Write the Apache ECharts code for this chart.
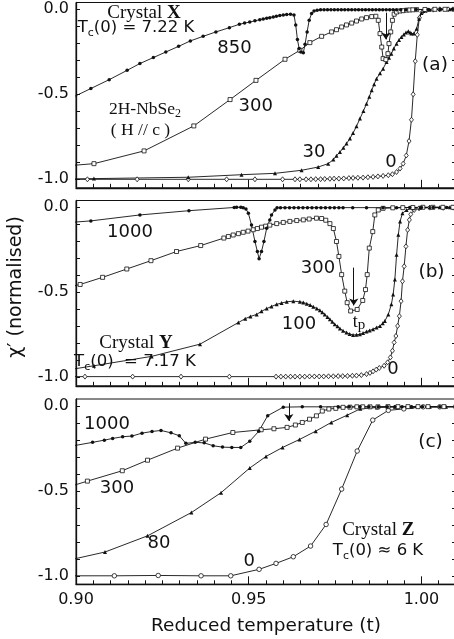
<!DOCTYPE html>
<html><head><meta charset="utf-8">
<script src="https://cdn.jsdelivr.net/npm/echarts@6/dist/echarts.min.js"></script>
<style>html,body{margin:0;padding:0;background:#fff}#c{width:454px;height:639px}</style>
</head><body><div id="c"></div>
<script>
// ---- tick values ----
const xTickLabels = [0.90, 0.95, 1.00];
const xMajorTicks = [0.95, 1.00];
const yTickLabels = [-1.0, -0.5, 0.0];
const yMinorTicks = [-1.0,-0.9,-0.8,-0.7,-0.6,-0.5,-0.4,-0.3,-0.2,-0.1,0.0];

// ---- panel (a): Crystal X ----
const a850 = [[0.8990,-0.518],[0.9043,-0.466],[0.9096,-0.414],[0.9148,-0.359],[0.9185,-0.319],[0.9224,-0.284],[0.9260,-0.251],[0.9297,-0.218],[0.9331,-0.186],[0.9368,-0.159],[0.9405,-0.133],[0.9444,-0.108],[0.9473,-0.088],[0.9488,-0.081],[0.9503,-0.075],[0.9518,-0.068],[0.9532,-0.061],[0.9542,-0.057],[0.9552,-0.053],[0.9561,-0.049],[0.9571,-0.045],[0.9580,-0.041],[0.9590,-0.037],[0.9600,-0.034],[0.9610,-0.031],[0.9621,-0.029],[0.9631,-0.034],[0.9636,-0.092],[0.9641,-0.178],[0.9646,-0.231],[0.9651,-0.251],[0.9658,-0.255],[0.9663,-0.206],[0.9669,-0.133],[0.9675,-0.065],[0.9682,-0.025],[0.9689,-0.010],[0.9698,-0.005],[0.9708,-0.003],[0.9718,-0.003],[0.9728,-0.003],[0.9738,-0.002],[0.9748,-0.002],[0.9758,-0.002],[0.9768,-0.002],[0.9778,-0.002],[0.9788,-0.002],[0.9798,-0.002],[0.9808,-0.002],[0.9818,-0.002],[0.9828,-0.002],[0.9838,-0.002],[0.9848,-0.002],[0.9858,-0.002],[0.9868,-0.002],[0.9878,-0.002],[0.9888,-0.002],[0.9898,-0.002],[0.9908,-0.002],[0.9918,-0.002],[0.9928,-0.002],[0.9940,-0.002],[0.9955,-0.002],[0.9985,-0.001],[1.0020,-0.001],[1.0055,0],[1.0090,0]];
const a300 = [[0.8985,-0.919],[0.9052,-0.908],[0.9197,-0.833],[0.9341,-0.686],[0.9446,-0.531],[0.9521,-0.418],[0.9605,-0.294],[0.9648,-0.241],[0.9677,-0.196],[0.9711,-0.159],[0.9740,-0.133],[0.9754,-0.120],[0.9769,-0.104],[0.9783,-0.092],[0.9798,-0.081],[0.9812,-0.069],[0.9827,-0.057],[0.9841,-0.049],[0.9856,-0.043],[0.9868,-0.041],[0.9875,-0.065],[0.9880,-0.143],[0.9885,-0.222],[0.9889,-0.290],[0.9897,-0.296],[0.9903,-0.261],[0.9906,-0.202],[0.9911,-0.133],[0.9916,-0.065],[0.9921,-0.029],[0.9928,-0.016],[0.9938,-0.010],[0.9947,-0.008],[0.9957,-0.005],[0.9966,-0.004],[0.9975,-0.003],[0.9986,-0.002],[1.0010,-0.001],[1.0039,0],[1.0068,0],[1.0095,0]];
const a30 = [[0.8985,-0.998],[0.9052,-0.996],[0.9325,-0.988],[0.9479,-0.973],[0.9576,-0.965],[0.9653,-0.947],[0.9701,-0.928],[0.9730,-0.908],[0.9745,-0.884],[0.9754,-0.862],[0.9764,-0.839],[0.9774,-0.815],[0.9783,-0.790],[0.9793,-0.760],[0.9802,-0.728],[0.9812,-0.688],[0.9822,-0.643],[0.9832,-0.598],[0.9841,-0.555],[0.9849,-0.515],[0.9856,-0.476],[0.9863,-0.441],[0.9870,-0.408],[0.9880,-0.376],[0.9889,-0.349],[0.9899,-0.310],[0.9906,-0.285],[0.9913,-0.261],[0.9920,-0.230],[0.9928,-0.202],[0.9935,-0.180],[0.9942,-0.163],[0.9949,-0.148],[0.9955,-0.137],[0.9962,-0.129],[0.9967,-0.136],[0.9971,-0.143],[0.9978,-0.143],[0.9986,-0.114],[0.9993,-0.055],[1.0000,-0.022],[1.0007,-0.010],[1.0024,-0.003],[1.0053,0],[1.0082,0]];
const a0 = [[0.8985,-1.0],[0.9033,-1.0],[0.9177,-1.0],[0.9325,-1.0],[0.9436,-1.0],[0.9518,-1.0],[0.9598,-1.0],[0.9634,-1.0],[0.9648,-1.0],[0.9666,-1.0],[0.9680,-1.0],[0.9694,-0.999],[0.9708,-0.999],[0.9720,-0.998],[0.9735,-0.997],[0.9747,-0.996],[0.9761,-0.996],[0.9775,-0.995],[0.9790,-0.993],[0.9802,-0.992],[0.9816,-0.991],[0.9831,-0.990],[0.9845,-0.988],[0.9860,-0.986],[0.9874,-0.983],[0.9889,-0.980],[0.9904,-0.976],[0.9916,-0.970],[0.9928,-0.957],[0.9938,-0.937],[0.9947,-0.908],[0.9956,-0.860],[0.9964,-0.775],[0.9971,-0.650],[0.9976,-0.500],[0.9982,-0.305],[0.9988,-0.150],[0.9994,-0.050],[1.0002,-0.018],[1.0015,-0.006],[1.0034,-0.002],[1.0053,0],[1.0077,0],[1.0100,0]];

// ---- panel (b): Crystal Y ----
const b1000 = [[0.8990,-0.088],[0.9043,-0.080],[0.9185,-0.045],[0.9327,-0.020],[0.9458,-0.001],[0.9465,0],[0.9477,0],[0.9484,-0.002],[0.9492,-0.010],[0.9499,-0.035],[0.9508,-0.104],[0.9518,-0.201],[0.9525,-0.260],[0.9530,-0.302],[0.9537,-0.260],[0.9544,-0.201],[0.9552,-0.123],[0.9561,-0.074],[0.9566,-0.045],[0.9576,-0.016],[0.9582,-0.003],[0.9592,-0.002],[0.9605,-0.002],[0.9618,-0.002],[0.9631,-0.002],[0.9644,-0.002],[0.9657,-0.002],[0.9670,-0.002],[0.9683,-0.002],[0.9696,-0.002],[0.9709,-0.002],[0.9722,-0.002],[0.9735,-0.002],[0.9748,-0.002],[0.9761,-0.002],[0.9773,-0.002],[0.9801,-0.002],[0.9841,-0.002],[0.9889,-0.002],[0.9928,-0.002],[0.9966,-0.001],[1.0000,-0.001],[1.0034,-0.001],[1.0073,-0.001]];
const b300 = [[0.8990,-0.464],[0.9012,-0.454],[0.9077,-0.412],[0.9147,-0.363],[0.9217,-0.314],[0.9291,-0.260],[0.9361,-0.225],[0.9428,-0.181],[0.9441,-0.172],[0.9455,-0.163],[0.9470,-0.155],[0.9484,-0.147],[0.9498,-0.140],[0.9513,-0.132],[0.9525,-0.125],[0.9537,-0.117],[0.9549,-0.111],[0.9561,-0.105],[0.9581,-0.096],[0.9600,-0.089],[0.9619,-0.083],[0.9639,-0.078],[0.9658,-0.074],[0.9675,-0.069],[0.9696,-0.064],[0.9711,-0.066],[0.9723,-0.076],[0.9735,-0.096],[0.9745,-0.125],[0.9754,-0.201],[0.9761,-0.289],[0.9769,-0.396],[0.9778,-0.493],[0.9785,-0.561],[0.9795,-0.610],[0.9814,-0.601],[0.9830,-0.548],[0.9838,-0.484],[0.9843,-0.396],[0.9849,-0.240],[0.9859,-0.143],[0.9865,-0.045],[0.9875,-0.016],[0.9889,-0.006],[0.9917,-0.003],[0.9946,-0.002],[0.9975,-0.001],[1.0004,0],[1.0033,0],[1.0062,0],[1.0091,0]];
const b100 = [[0.8990,-0.952],[0.9052,-0.932],[0.9219,-0.877],[0.9359,-0.805],[0.9470,-0.678],[0.9490,-0.655],[0.9505,-0.642],[0.9523,-0.630],[0.9537,-0.612],[0.9552,-0.596],[0.9566,-0.583],[0.9581,-0.571],[0.9595,-0.563],[0.9610,-0.556],[0.9629,-0.552],[0.9648,-0.556],[0.9658,-0.560],[0.9668,-0.567],[0.9678,-0.575],[0.9687,-0.585],[0.9697,-0.595],[0.9706,-0.606],[0.9713,-0.618],[0.9720,-0.630],[0.9728,-0.645],[0.9735,-0.659],[0.9742,-0.673],[0.9749,-0.688],[0.9757,-0.700],[0.9764,-0.713],[0.9773,-0.726],[0.9783,-0.737],[0.9792,-0.745],[0.9802,-0.751],[0.9812,-0.750],[0.9822,-0.747],[0.9831,-0.740],[0.9841,-0.731],[0.9850,-0.724],[0.9860,-0.717],[0.9870,-0.707],[0.9880,-0.698],[0.9888,-0.682],[0.9894,-0.669],[0.9904,-0.630],[0.9913,-0.571],[0.9918,-0.513],[0.9923,-0.425],[0.9928,-0.279],[0.9933,-0.162],[0.9938,-0.084],[0.9945,-0.035],[0.9957,-0.016],[0.9976,-0.006],[0.9995,-0.002],[1.0024,0],[1.0053,0],[1.0082,0]];
const b0 = [[0.8990,-0.996],[0.9026,-0.996],[0.9164,-0.996],[0.9304,-0.996],[0.9444,-0.996],[0.9579,-0.996],[0.9593,-0.996],[0.9607,-0.996],[0.9621,-0.996],[0.9634,-0.996],[0.9648,-0.996],[0.9662,-0.996],[0.9676,-0.995],[0.9690,-0.995],[0.9704,-0.995],[0.9717,-0.995],[0.9731,-0.994],[0.9745,-0.994],[0.9759,-0.993],[0.9772,-0.993],[0.9786,-0.992],[0.9800,-0.991],[0.9812,-0.990],[0.9826,-0.987],[0.9841,-0.981],[0.9851,-0.974],[0.9860,-0.965],[0.9869,-0.955],[0.9878,-0.945],[0.9892,-0.932],[0.9902,-0.912],[0.9910,-0.883],[0.9916,-0.844],[0.9921,-0.795],[0.9926,-0.757],[0.9931,-0.698],[0.9936,-0.640],[0.9941,-0.552],[0.9945,-0.435],[0.9950,-0.347],[0.9955,-0.230],[0.9960,-0.133],[0.9965,-0.074],[0.9969,-0.041],[0.9979,-0.016],[0.9993,-0.006],[1.0024,-0.002],[1.0063,-0.003],[1.0092,-0.002]];

// ---- panel (c): Crystal Z ----
const c1000 = [[0.8990,-0.236],[0.9048,-0.215],[0.9082,-0.202],[0.9106,-0.192],[0.9135,-0.182],[0.9162,-0.178],[0.9191,-0.161],[0.9220,-0.151],[0.9246,-0.145],[0.9275,-0.159],[0.9299,-0.176],[0.9318,-0.221],[0.9345,-0.215],[0.9371,-0.218],[0.9397,-0.235],[0.9424,-0.243],[0.9451,-0.245],[0.9477,-0.245],[0.9503,-0.208],[0.9529,-0.150],[0.9555,-0.058],[0.9600,-0.008],[0.9655,-0.006],[0.9708,-0.006],[0.9759,-0.006],[0.9791,-0.006],[0.9822,-0.006],[0.9848,-0.006],[0.9875,-0.006],[0.9901,-0.006],[0.9923,-0.006],[0.9944,-0.006],[0.9971,-0.006],[1.0003,-0.006],[1.0053,-0.006],[1.0100,-0.006]];
const c300 = [[0.8990,-0.470],[0.9033,-0.443],[0.9134,-0.382],[0.9207,-0.320],[0.9294,-0.249],[0.9375,-0.196],[0.9454,-0.157],[0.9536,-0.141],[0.9573,-0.135],[0.9611,-0.127],[0.9635,-0.113],[0.9655,-0.098],[0.9676,-0.079],[0.9696,-0.059],[0.9713,-0.031],[0.9732,-0.019],[0.9752,-0.015],[0.9773,-0.009],[0.9793,-0.008],[0.9813,-0.006],[0.9830,-0.006],[0.9851,-0.006],[0.9874,-0.006],[0.9903,-0.005],[0.9932,-0.005],[0.9961,-0.005],[0.9990,-0.005],[1.0019,-0.005],[1.0065,-0.005],[1.0100,-0.005]];
const c80 = [[0.8990,-0.903],[0.9084,-0.860],[0.9207,-0.765],[0.9334,-0.628],[0.9420,-0.511],[0.9503,-0.366],[0.9550,-0.298],[0.9598,-0.245],[0.9647,-0.198],[0.9694,-0.149],[0.9739,-0.098],[0.9785,-0.055],[0.9823,-0.018],[0.9871,-0.010],[0.9923,-0.006],[0.9972,-0.006],[1.0024,-0.006],[1.0071,-0.006]];
const c0 = [[0.8990,-1.0],[0.9111,-1.0],[0.9238,-0.998],[0.9362,-1.0],[0.9448,-1.0],[0.9530,-0.962],[0.9579,-0.927],[0.9629,-0.888],[0.9679,-0.825],[0.9724,-0.698],[0.9769,-0.490],[0.9814,-0.266],[0.9859,-0.084],[0.9904,-0.027],[0.9949,-0.018],[1.0005,-0.006],[1.0053,-0.006],[1.0100,-0.006]];

// arrows (t_p markers), in data units: [t, chi_top, chi_bottom]
const arrowA = [0.9897, -0.020, -0.177];
const arrowB = [0.9804, -0.355, -0.577];
const arrowC = [0.9616, 0.015, -0.089];

const INK = '#111';
const SANS = 'DejaVu Sans';
const SERIF = 'Liberation Serif';
const X_MIN = 0.90, X_MAX = 1.01, Y_MIN = -1.05, Y_MAX = 0.04;
const gridTops = [2.5, 200.5, 399];

const chart = echarts.init(document.getElementById('c'), null, {renderer: 'canvas'});

const grid = gridTops.map(t => ({left: 76, width: 380, top: t, height: 185.3, show: true,
  borderColor: INK, borderWidth: 1, backgroundColor: 'transparent', containLabel: false, outerBoundsMode: 'none'}));

const xAxis = [];
for (let i = 0; i < 3; i++) {
  xAxis.push({type: 'value', gridIndex: i, min: X_MIN, max: X_MAX, interval: 0.005, position: 'bottom',
    axisLine: {show: true, onZero: false, lineStyle: {color: INK, width: 1.3}},
    axisTick: {show: true, inside: true, length: 4, lineStyle: {color: INK, width: 1}},
    axisLabel: i === 2 ? {show: true, customValues: xTickLabels, formatter: v => v.toFixed(2), margin: 8,
      fontFamily: SANS, fontSize: 16, color: INK} : {show: false},
    splitLine: {show: false}});
}
for (let i = 0; i < 3; i++) {
  xAxis.push({type: 'value', gridIndex: i, min: X_MIN, max: X_MAX, position: 'bottom',
    axisLine: {show: false, onZero: false},
    axisTick: {show: true, inside: true, length: 8, customValues: xMajorTicks, lineStyle: {color: INK, width: 1}},
    axisLabel: {show: false}, splitLine: {show: false}});
}
const yAxis = [];
for (let i = 0; i < 3; i++) {
  yAxis.push({type: 'value', gridIndex: i, min: Y_MIN, max: Y_MAX, position: 'left',
    axisLine: {show: true, onZero: false, lineStyle: {color: INK, width: 1.3}},
    axisTick: {show: true, inside: true, length: 4, customValues: yMinorTicks, lineStyle: {color: INK}},
    axisLabel: {show: true, customValues: yTickLabels, formatter: v => v.toFixed(1), margin: 7,
      fontFamily: SANS, fontSize: 16, color: INK},
    splitLine: {show: false}});
}
for (let i = 0; i < 3; i++) {
  yAxis.push({type: 'value', gridIndex: i, min: Y_MIN, max: Y_MAX, position: 'right',
    axisLine: {show: true, onZero: false, lineStyle: {color: INK, width: 1}},
    axisTick: {show: true, inside: true, length: 4, customValues: yMinorTicks, lineStyle: {color: INK}},
    axisLabel: {show: false}, splitLine: {show: false}});
}

function toData(arr) {
  return arr.map(p => (p[0] < X_MIN ? {value: p, symbol: 'none'} : p));
}
function mk(name, arr, g, symbol, size, filled, arrow) {
  const s = {type: 'line', name, xAxisIndex: g, yAxisIndex: g, data: toData(arr), clip: true,
    symbol, symbolSize: size, showSymbol: true, showAllSymbol: true, silent: true,
    lineStyle: {color: INK, width: 0.9},
    itemStyle: {color: filled ? INK : '#fff', borderColor: INK, borderWidth: filled ? 0 : 0.8}};
  if (arrow) {
    s.markLine = {silent: true, animation: false, symbol: ['none', 'arrow'], symbolSize: 7,
      label: {show: false}, lineStyle: {color: INK, width: 1, type: 'solid'},
      data: [[{coord: [arrow[0], arrow[1]]}, {coord: [arrow[0], arrow[2]]}]]};
  }
  return s;
}

const series = [
  mk('a0', a0, 0, 'diamond', [4, 5], false),
  mk('a30', a30, 0, 'triangle', 4, true),
  mk('a300', a300, 0, 'rect', 4, false, arrowA),
  mk('a850', a850, 0, 'circle', 3.5, true),
  mk('b0', b0, 1, 'diamond', [4, 5], false),
  mk('b100', b100, 1, 'triangle', 4, true),
  mk('b300', b300, 1, 'rect', 4, false, arrowB),
  mk('b1000', b1000, 1, 'circle', 3.5, true),
  mk('c0', c0, 2, 'circle', 4.5, false),
  mk('c80', c80, 2, 'triangle', 4, true),
  mk('c300', c300, 2, 'rect', 4, false, arrowC),
  mk('c1000', c1000, 2, 'circle', 3.5, true)
];

function txt(x, y, text, size, family, extra) {
  return {type: 'text', x, y, silent: true, z: 100,
    style: Object.assign({text, fontSize: size, fontFamily: family || SANS, fill: INK,
      align: 'center', verticalAlign: 'middle'}, extra || {})};
}
function tcText(x, y, rest) {
  return {type: 'text', x, y, silent: true, z: 100,
    style: {text: '{n|T}{s|c}{n|' + rest + '}', align: 'center', verticalAlign: 'middle', fill: INK,
      rich: {n: {fontSize: 16.5, fontFamily: SANS, lineHeight: 22, fill: INK},
             s: {fontSize: 11, fontFamily: SANS, lineHeight: 9, verticalAlign: 'bottom', fill: INK}}}};
}
function crystal(x, y, letter) {
  return {type: 'text', x, y, silent: true, z: 100,
    style: {text: '{r|Crystal }{b|' + letter + '}', align: 'center', verticalAlign: 'middle', fill: INK,
      rich: {r: {fontSize: 19, fontFamily: SERIF, fill: INK},
             b: {fontSize: 19, fontFamily: SERIF, fontWeight: 'bold', fill: INK}}}};
}

const graphic = [
  // panel (a)
  crystal(144, 13, 'X'),
  tcText(136, 28, '(0) = 7.22 K'),
  txt(234.5, 48.5, '850', 18),
  {type: 'text', x: 145, y: 109, silent: true, z: 100,
    style: {text: '{r|2H-NbSe}{s|2}', align: 'center', verticalAlign: 'middle', fill: INK,
      rich: {r: {fontSize: 17.5, fontFamily: SERIF, lineHeight: 22, fill: INK},
             s: {fontSize: 12, fontFamily: SERIF, lineHeight: 10, verticalAlign: 'bottom', fill: INK}}}},
  txt(140.5, 130, '( H // c )', 17.5, SERIF),
  txt(255.7, 106, '300', 18),
  txt(314, 152, '30', 18),
  txt(391, 162, '0', 18),
  txt(435, 65, '(a)', 18.5),
  // panel (b)
  txt(130, 232.7, '1000', 18),
  txt(318, 268, '300', 18),
  txt(299, 324.7, '100', 18),
  txt(393, 369.5, '0', 18),
  txt(431.5, 272, '(b)', 18.5),
  {type: 'text', x: 359, y: 322, silent: true, z: 100,
    style: {text: '{t|t}{p|p}', align: 'center', verticalAlign: 'middle', fill: INK,
      rich: {t: {fontSize: 18, fontFamily: SERIF, lineHeight: 22, fill: INK},
             p: {fontSize: 15, fontFamily: SERIF, lineHeight: 14, verticalAlign: 'bottom', fill: INK}}}},
  crystal(136, 343.5, 'Y'),
  tcText(135, 362, '(0)  = 7.17 K'),
  // panel (c)
  txt(107, 424, '1000', 18),
  txt(117, 488.3, '300', 18),
  txt(159, 543.3, '80', 18),
  txt(249.3, 561, '0', 18),
  txt(430.5, 442, '(c)', 18.5),
  crystal(378.3, 530, 'Z'),
  tcText(378, 551, '(0) \u2248 6 K'),
  // axis titles
  txt(266, 626.5, 'Reduced temperature (t)', 18.5),
  {type: 'text', x: 16, y: 287, rotation: Math.PI / 2, silent: true, z: 100,
    style: {text: '\u03C7\u2032 (normalised)', fontSize: 19, fontFamily: SANS, fill: INK,
      align: 'center', verticalAlign: 'middle'}}
];

chart.setOption({animation: false, backgroundColor: '#fff', grid, xAxis, yAxis, series, graphic});
</script></body></html>
